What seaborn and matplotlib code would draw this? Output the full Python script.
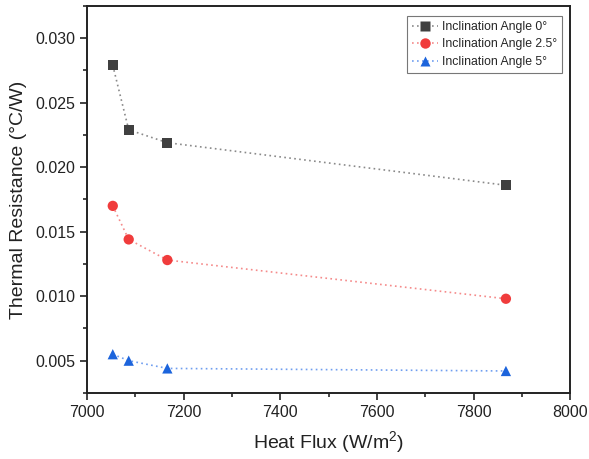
import matplotlib
matplotlib.use("Agg")
import matplotlib.pyplot as plt
from matplotlib.ticker import MultipleLocator, FormatStrFormatter
from matplotlib.lines import Line2D
import seaborn as sns
import pandas as pd

# Heat flux (W/m^2) and thermal resistance (°C/W) at each inclination angle
heat_flux = [7053, 7086, 7166, 7867]
r_angle_0 = [0.0279, 0.0229, 0.0219, 0.0186]
r_angle_25 = [0.0170, 0.0144, 0.0128, 0.0098]
r_angle_5 = [0.0055, 0.0050, 0.0044, 0.0042]

labels = ["Inclination Angle 0°", "Inclination Angle 2.5°", "Inclination Angle 5°"]
colors = ["#404040", "#f03c3c", "#1c64dc"]
line_colors = ["#8a8a8a", "#f58a8a", "#6f9ef0"]
markers = ["s", "o", "^"]

df = pd.concat(
    [
        pd.DataFrame({"flux": heat_flux, "res": vals, "series": lab})
        for vals, lab in zip([r_angle_0, r_angle_25, r_angle_5], labels)
    ],
    ignore_index=True,
)

sns.set_style("ticks")
plt.rcParams["font.family"] = ["Liberation Sans", "DejaVu Sans"]
plt.rcParams["mathtext.fontset"] = "custom"
plt.rcParams["mathtext.rm"] = "Liberation Sans"

fig = plt.figure(figsize=(5.89, 4.59), dpi=100)
ax = fig.add_axes([0.148, 0.144, 0.820, 0.843])

for lab, c, lc, m in zip(labels, colors, line_colors, markers):
    sub = df[df["series"] == lab]
    sns.lineplot(data=sub, x="flux", y="res", ax=ax, color=lc, linestyle=(0, (1, 2)),
                 linewidth=1.2, legend=False)
    sns.scatterplot(data=sub, x="flux", y="res", ax=ax, color=c, marker=m,
                    s=55, edgecolor="none", legend=False, zorder=3)

# legend entries show the dotted line together with the marker
handles = [
    Line2D([], [], color=lc, linestyle=(0, (1, 2)), linewidth=1.2, marker=m,
           markerfacecolor=c, markeredgecolor="none", markersize=7.5)
    for c, lc, m in zip(colors, line_colors, markers)
]
leg = ax.legend(handles, labels, loc="upper right", fontsize=8.8, frameon=True,
                fancybox=False, edgecolor="#555555", handlelength=2.1,
                borderpad=0.4, labelspacing=0.45, handletextpad=0.3,
                bbox_to_anchor=(0.995, 0.99))
leg.get_frame().set_linewidth(0.8)

ax.set_xlim(7000, 8000)
ax.set_ylim(0.0025, 0.0325)
ax.xaxis.set_major_locator(MultipleLocator(200))
ax.xaxis.set_minor_locator(MultipleLocator(100))
ax.yaxis.set_major_locator(MultipleLocator(0.005))
ax.yaxis.set_minor_locator(MultipleLocator(0.0025))
ax.yaxis.set_major_formatter(FormatStrFormatter("%.3f"))

ax.tick_params(axis="both", which="major", direction="out", length=5, width=1.2,
               labelsize=11.5, colors="#222222")
ax.tick_params(axis="both", which="minor", direction="out", length=3, width=1.2)
for sp in ax.spines.values():
    sp.set_linewidth(1.4)
    sp.set_color("#222222")

ax.set_xlabel("Heat Flux (W/m$^2$)", fontsize=14, color="#222222", labelpad=7)
ax.set_ylabel("Thermal Resistance (°C/W)", fontsize=14, color="#222222", labelpad=6)

fig.savefig("out.png", dpi=100)
